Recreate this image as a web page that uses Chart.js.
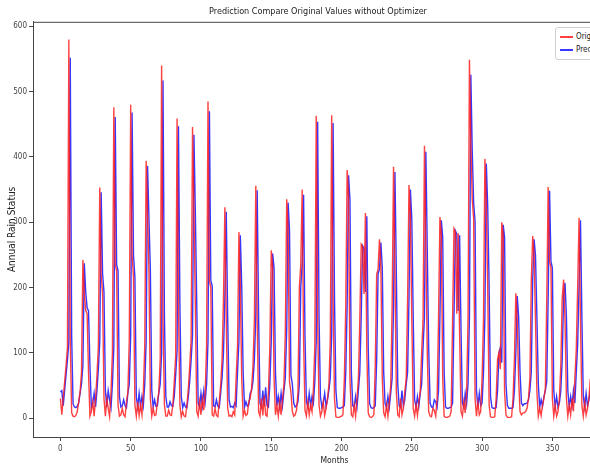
<!DOCTYPE html>
<html>
<head>
<meta charset="utf-8">
<script src="https://cdn.jsdelivr.net/npm/chart.js@4.4.0/dist/chart.umd.min.js"></script>
<style>
  html, body { margin: 0; padding: 0; background: #fff; overflow: hidden; }
  #wrap { position: relative; width: 590px; height: 466px; overflow: hidden; }
  #legend {
    position: absolute; left: 555px; top: 27px; width: 80px; height: 31px;
    border: 1px solid #d0d0d0; border-radius: 3px; background: #fff;
    font: 8px 'DejaVu Sans Condensed', 'DejaVu Sans', sans-serif; color: #222;
  }
  #legend .item { position: absolute; left: 4px; height: 12px; line-height: 12px; white-space: nowrap; }
  #legend .swatch { display: inline-block; width: 13px; height: 2px; vertical-align: middle; margin-right: 3px; }
</style>
</head>
<body>
<div id="wrap">
  <canvas id="chart" width="660" height="466"></canvas>
  <div id="legend"></div>
</div>
<script>
const chartTitle = "Prediction Compare Original Values without Optimizer";
const xTitle = "Months";
const yTitle = "Annual Rain Status";
const xTicks = [0, 50, 100, 150, 200, 250, 300, 350, 400];
const yTicks = [0, 100, 200, 300, 400, 500, 600];

// monthly rainfall
const original = [
  30,5,30,55,80,108,580,120,8,3,
  2,4,10,25,40,70,242,190,165,160,
  70,3,10,25,3,30,65,110,353,220,
  190,30,3,30,15,2,40,100,476,235,
  225,20,3,5,15,5,2,25,40,120,
  480,250,215,20,3,25,4,20,5,40,
  110,394,310,225,30,3,15,4,5,25,
  40,90,540,150,20,3,3,12,5,4,
  20,55,95,459,170,20,2,10,3,2,
  20,45,80,120,446,320,170,10,3,25,
  5,30,12,40,110,485,210,200,5,3,
  15,4,2,25,50,90,180,323,150,15,
  3,4,2,10,5,60,110,285,200,60,
  3,12,4,6,25,30,45,80,150,356,
  150,10,3,30,4,35,5,3,40,110,
  257,230,60,5,20,3,25,5,30,50,
  130,335,290,55,40,10,3,5,12,40,
  200,235,350,120,12,3,25,5,20,10,
  45,110,463,150,20,3,10,25,4,15,
  30,50,120,464,180,30,2,1,1,2,
  3,5,60,170,380,340,60,5,2,20,
  3,30,60,150,266,262,190,314,100,8,
  2,1,2,5,80,220,228,274,230,60,
  8,2,20,3,25,50,170,385,220,40,
  5,2,30,5,15,40,60,180,357,310,
  150,15,3,20,4,25,40,100,150,417,
  260,100,10,3,2,15,12,3,30,150,
  308,280,60,3,1,1,2,3,10,150,
  290,285,160,283,130,10,3,25,8,40,
  150,549,420,335,305,30,3,25,5,10,
  60,150,397,330,200,20,2,1,1,2,
  30,90,100,75,300,280,40,5,1,1,
  1,2,30,90,191,150,60,10,5,8,
  8,10,15,30,60,210,279,250,150,40,
  3,15,4,20,30,45,180,354,240,230,
  30,3,20,3,10,30,80,184,212,150,
  30,3,20,5,30,10,60,105,200,307,
  150,20,3,25,5,15,30,60
];

const predicted = [
  40,42,19,42,66,89,116,552,127,22,
  17,16,18,23,38,52,80,237,193,169,
  164,80,17,23,38,17,42,75,117,346,
  221,193,42,17,42,28,16,52,108,461,
  235,226,33,17,19,28,19,16,38,52,
  127,468,249,216,33,17,38,18,33,19,
  52,117,386,305,226,42,17,28,18,19,
  38,52,99,517,155,33,17,17,25,19,
  18,33,66,103,447,174,33,16,23,17,
  16,33,56,89,127,434,315,174,23,17,
  38,19,42,25,52,117,470,211,202,19,
  17,28,18,16,38,61,99,183,316,155,
  28,17,18,16,23,19,70,117,280,202,
  70,17,25,18,20,38,42,56,89,155,
  349,155,23,17,42,18,47,19,17,52,
  117,252,230,70,19,33,17,38,19,42,
  61,136,330,287,66,52,23,17,19,25,
  52,202,235,342,127,25,17,38,19,33,
  23,56,117,454,155,33,17,23,38,18,
  28,42,61,127,452,183,42,16,15,15,
  16,17,19,70,174,372,334,70,19,16,
  33,17,42,70,155,264,260,193,309,108,
  22,16,15,16,19,89,221,228,269,230,
  70,22,16,33,17,38,61,174,377,221,
  52,19,16,42,19,28,52,70,183,350,
  305,155,28,17,33,18,38,52,108,155,
  408,258,108,23,17,16,28,25,17,42,
  155,303,277,70,17,15,15,16,17,23,
  155,287,282,164,280,136,23,17,38,22,
  52,155,526,409,329,301,42,17,38,19,
  23,70,155,390,324,202,33,16,15,15,
  16,42,99,108,85,296,277,52,19,15,
  15,15,16,42,99,187,155,70,23,19,
  22,22,23,28,42,70,211,274,249,155,
  52,17,28,18,33,42,56,183,348,240,
  230,42,17,33,17,23,42,89,187,207,
  155,42,17,33,19,42,23,70,113,202,
  303,155,33,17,38,19,28,42
];

const months = original.map((v, i) => i);

const FONT = "'DejaVu Sans Condensed', 'DejaVu Sans', sans-serif";
const AXIS = '#444';

// matplotlib style box round the axes
const frame = {
  id: 'frame',
  afterDraw(chart) {
    const {ctx, chartArea: a} = chart;
    ctx.save();
    ctx.strokeStyle = AXIS;
    ctx.lineWidth = 1;
    ctx.strokeRect(a.left + 0.5, a.top + 0.5, a.right - a.left, a.bottom - a.top);
    ctx.restore();
  }
};

let chart = new Chart(document.getElementById('chart'), {
  type: 'line',
  data: {
    labels: months,
    datasets: [
      {label: 'Original', data: original, borderColor: 'rgba(255, 30, 30, 0.85)', borderWidth: 1.4, pointRadius: 0, tension: 0},
      {label: 'Predicted', data: predicted, borderColor: 'rgba(20, 20, 255, 0.85)', borderWidth: 1.4, pointRadius: 0, tension: 0}
    ]
  },
  options: {
    responsive: false,
    animation: false,
    layout: {padding: {left: 0, right: 24, top: 0, bottom: 0}},
    plugins: {
      legend: {display: false},
      tooltip: {enabled: false},
      title: {
        display: true, text: chartTitle, color: '#222',
        font: {family: FONT, size: 9, weight: 'normal'},
        padding: {top: 6, bottom: 5}
      }
    },
    scales: {
      x: {
        type: 'linear', min: -19.5, max: 409.5,
        afterBuildTicks: (s) => { s.ticks = xTicks.map(v => ({value: v})); },
        afterFit: (s) => { s.height = 29; },
        grid: {drawOnChartArea: false, drawTicks: true, tickLength: 4, color: AXIS},
        border: {display: true, color: AXIS},
        ticks: {font: {family: FONT, size: 8}, color: '#444', padding: 3, maxRotation: 0},
        title: {display: true, text: xTitle, color: '#222', font: {family: FONT, size: 8.5}, padding: 0}
      },
      y: {
        min: -29, max: 607,
        afterBuildTicks: (s) => { s.ticks = yTicks.map(v => ({value: v})); },
        afterFit: (s) => { s.width = 33; },
        grid: {drawOnChartArea: false, drawTicks: true, tickLength: 4, color: AXIS},
        border: {display: true, color: AXIS},
        ticks: {font: {family: FONT, size: 8}, color: '#444', padding: 2},
        title: {display: true, text: yTitle, color: '#222', font: {family: FONT, size: 10}, padding: {top: 6, bottom: 0}}
      }
    }
  },
  plugins: [frame]
});

// legend in the upper right corner, built from the datasets
let legendHtml = '';
chart.data.datasets.forEach((ds, i) => {
  legendHtml += `<div class="item" style="top:${3 + i * 13}px"><span class="swatch" style="background:${ds.borderColor}"></span>${ds.label}</div>`;
});
document.getElementById('legend').innerHTML = legendHtml;
</script>
</body>
</html>
